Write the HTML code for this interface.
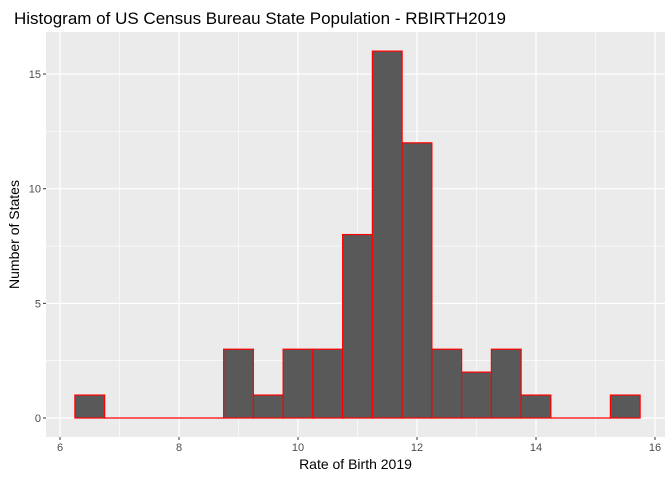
<!DOCTYPE html>
<html><head><meta charset="utf-8"><style>body{margin:0;background:#fff}svg{display:block;font-family:"Liberation Sans",Arial,sans-serif}</style></head>
<body>
<svg id="c" width="672" height="480"></svg>
<script>
const binCenters=[6.5,7,7.5,8,8.5,9,9.5,10,10.5,11,11.5,12,12.5,13,13.5,14,14.5,15,15.5];
const counts=[1,0,0,0,0,3,1,3,3,8,16,12,3,2,3,1,0,0,1];
const binWidth=0.5;
const xTicks=[6,8,10,12,14,16];
const yTicks=[0,5,10,15];
const L=46,R=665,T=32,B=437;
const x=v=>60+(v-6)*59.5;
const y=v=>418-v*22.93;
const s=document.getElementById('c');const NS='http://www.w3.org/2000/svg';
function mk(t,a,p){const e=document.createElementNS(NS,t);for(const k in a)e.setAttribute(k,a[k]);(p||s).appendChild(e);return e;}
let e=mk('rect',{x:L,y:T,width:R-L,height:B-T,fill:'#ebebeb'});


for(let i=0;i<xTicks.length;i++){const v=xTicks[i];
 if(i<xTicks.length-1){e=mk('line',{x1:x(v+1),x2:x(v+1),y1:T,y2:B,stroke:'#fff','stroke-width':0.6});}
 e=mk('line',{x1:x(v),x2:x(v),y1:T,y2:B,stroke:'#fff','stroke-width':1.2});
 e=mk('line',{x1:x(v),x2:x(v),y1:B,y2:B+3,stroke:'#333'});
 e=mk('text',{x:x(v),y:B+14,'text-anchor':'middle','font-size':11,fill:'#4d4d4d'});e.textContent=v;}
for(let i=0;i<yTicks.length;i++){const v=yTicks[i];
 e=mk('line',{x1:L,x2:R,y1:y(v+2.5),y2:y(v+2.5),stroke:'#fff','stroke-width':0.6});
 e=mk('line',{x1:L,x2:R,y1:y(v),y2:y(v),stroke:'#fff','stroke-width':1.2});
 e=mk('line',{x1:L-3,x2:L,y1:y(v),y2:y(v),stroke:'#333'});
 e=mk('text',{x:L-5,y:y(v)+4,'text-anchor':'end','font-size':11,fill:'#4d4d4d'});e.textContent=v;}
for(let i=0;i<counts.length;i++){const c=binCenters[i];
 const x0=x(c-binWidth/2),x1=x(c+binWidth/2);
 if(counts[i]===0){
  e=mk('line',{x1:x0,x2:x1,y1:y(0),y2:y(0),stroke:'#ff0000','stroke-width':1.2});
 }else{
  e=mk('rect',{x:x0,y:y(counts[i]),width:x1-x0,height:y(0)-y(counts[i]),fill:'#595959',stroke:'#ff0000','stroke-width':1.2});
 }
 }
e=mk('text',{x:14,y:24,'font-size':17,fill:'#000'});e.textContent='Histogram of US Census Bureau State Population - RBIRTH2019';
e=mk('text',{x:(L+R)/2,y:469,'text-anchor':'middle','font-size':14,fill:'#000'});e.textContent='Rate of Birth 2019';
e=mk('text',{x:19,y:(T+B)/2,'text-anchor':'middle','font-size':14,fill:'#000',transform:`rotate(-90 19 ${(T+B)/2})`});e.textContent='Number of States';
</script>
</body></html>
